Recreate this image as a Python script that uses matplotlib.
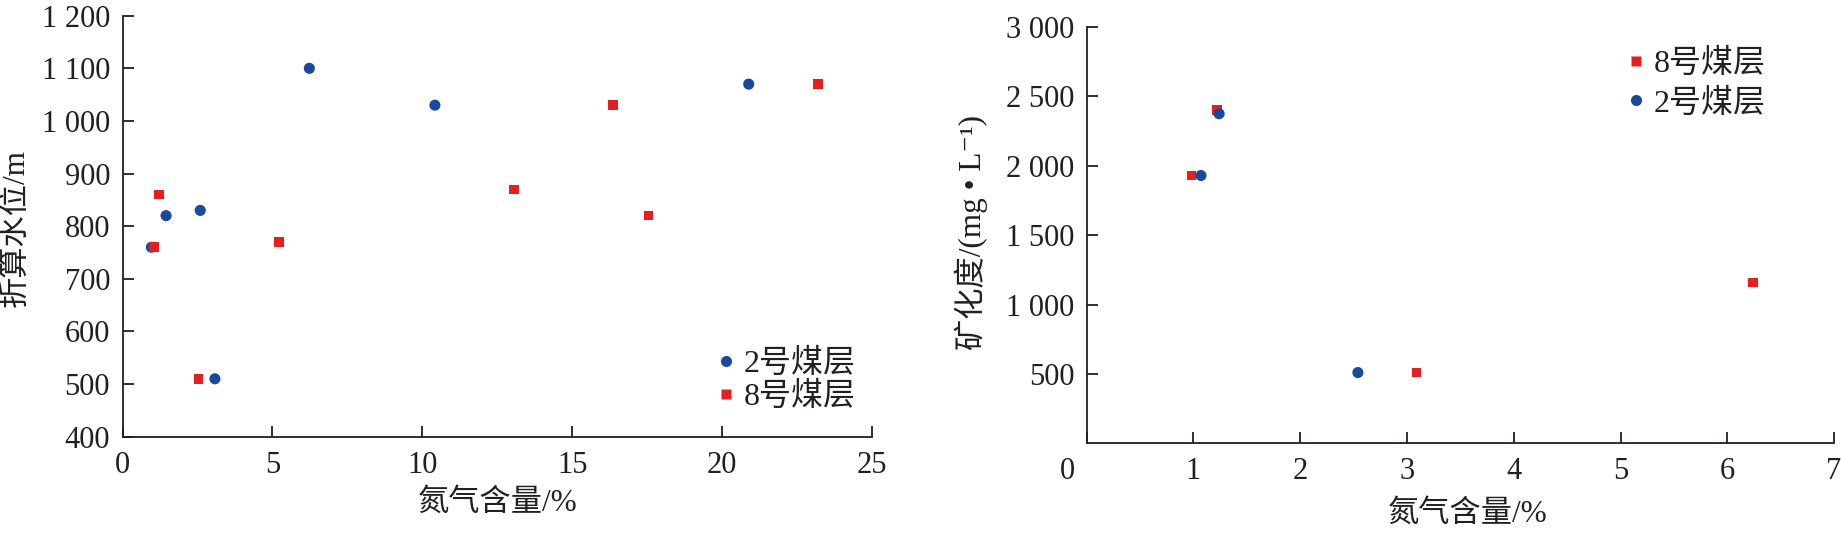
import matplotlib
matplotlib.use("Agg")
import matplotlib.pyplot as plt
from matplotlib.lines import Line2D

# ---------------- data ----------------
# left panel: N2 content (%) vs converted water level (m)
left_seam2_n2 = [6.23, 10.42, 20.89, 1.45, 2.59, 0.96, 3.08]
left_seam2_level = [1100, 1030, 1070, 820, 830, 760, 510]
left_seam8_n2 = [1.21, 1.04, 5.21, 2.53, 13.05, 16.36, 17.55, 23.2]
left_seam8_level = [860, 760, 770, 510, 870, 1030, 820, 1070]

# right panel: N2 content (%) vs mineralization (mg/L)
right_seam8_n2 = [0.98, 1.22, 3.09, 6.24]
right_seam8_tds = [1930, 2400, 510, 1160]
right_seam2_n2 = [1.07, 1.24, 2.54]
right_seam2_tds = [1930, 2375, 510]

left_xticks = [0, 5, 10, 15, 20, 25]
left_xticklabels = ["0", "5", "10", "15", "20", "25"]
left_yticks = [400, 500, 600, 700, 800, 900, 1000, 1100, 1200]
left_yticklabels = ["400", "500", "600", "700", "800", "900", "1 000", "1 100", "1 200"]

right_xticks = [0, 1, 2, 3, 4, 5, 6, 7]
right_xticklabels = ["", "1", "2", "3", "4", "5", "6", "7"]
right_yticks = [500, 1000, 1500, 2000, 2500, 3000]
right_yticklabels = ["500", "1 000", "1 500", "2 000", "2 500", "3 000"]

label_seam2 = "2号煤层"
label_seam8 = "8号煤层"
xlabel_text = "氮气含量/%"
left_ylabel = "折算水位/m"
right_ylabel = "矿化度/(mg • L⁻¹)"

# ---------------- style ----------------
FAM = ["Liberation Serif", "Noto Sans CJK SC", "DejaVu Sans"]
plt.rcParams["font.family"] = FAM
INK = "#231f20"
BLUE = "#184a9b"
RED = "#e3201f"
TICK_FS = 22
LABEL_FS = 22.5
LEG_FS = 23

fig = plt.figure(figsize=(18.41, 5.36), dpi=100)
ax1 = fig.add_axes([0.0666, 0.1853, 0.4070, 0.7854])
ax2 = fig.add_axes([0.5903, 0.1729, 0.4059, 0.7767])


def style_axes(ax):
    for s in ("top", "right"):
        ax.spines[s].set_visible(False)
    for s in ("left", "bottom"):
        ax.spines[s].set_color(INK)
        ax.spines[s].set_linewidth(1.3)
    ax.tick_params(axis="both", direction="in", length=7.7, width=1.3,
                   color=INK, labelcolor=INK, labelsize=TICK_FS)
    ax.tick_params(axis="y", pad=9)
    ax.tick_params(axis="x", pad=10)


# ----- left panel -----
ax1.scatter(left_seam2_n2, left_seam2_level, s=64, marker="o", color=BLUE,
            edgecolors="none", zorder=3, clip_on=False)
ax1.scatter(left_seam8_n2, left_seam8_level, s=48, marker="s", color=RED,
            edgecolors="none", zorder=4, clip_on=False)
ax1.set_xlim(0, 25)
ax1.set_ylim(400, 1200)
ax1.set_xticks(left_xticks)
ax1.set_xticklabels(left_xticklabels)
ax1.set_yticks(left_yticks)
ax1.set_yticklabels(left_yticklabels)
style_axes(ax1)
ax1.set_xlabel(xlabel_text, fontsize=LABEL_FS, color=INK, va="center", ha="center")
ax1.xaxis.set_label_coords(0.5, -0.1575)
ax1.set_ylabel(left_ylabel, fontsize=LABEL_FS, color=INK, va="center", ha="center")
ax1.yaxis.set_label_coords(-0.1424, 0.495)

h2 = Line2D([], [], ls="none", marker="o", ms=8, color=BLUE, mec="none")
h8 = Line2D([], [], ls="none", marker="s", ms=7, color=RED, mec="none")
ax1.legend([h2, h8], [label_seam2, label_seam8], loc="center left",
           bbox_to_anchor=(0.7945, 0.1335), frameon=False, fontsize=LEG_FS,
           handlelength=0.5, handletextpad=0.3, borderpad=0, borderaxespad=0,
           labelspacing=0.1, labelcolor=INK)

# ----- right panel -----
ax2.scatter(right_seam8_n2, right_seam8_tds, s=48, marker="s", color=RED,
            edgecolors="none", zorder=3, clip_on=False)
ax2.scatter(right_seam2_n2, right_seam2_tds, s=64, marker="o", color=BLUE,
            edgecolors="none", zorder=4, clip_on=False)
ax2.set_xlim(0, 7)
ax2.set_ylim(0, 3000)
ax2.set_xticks(right_xticks)
ax2.set_xticklabels(right_xticklabels)
ax2.set_yticks(right_yticks)
ax2.set_yticklabels(right_yticklabels)
style_axes(ax2)
# the origin label "0" sits slightly left of the corner in the reference
ax2.annotate("0", xy=(0, 0), xycoords="data", xytext=(-19, -14),
             textcoords="offset pixels", ha="center", va="top",
             fontsize=TICK_FS, color=INK, annotation_clip=False)
ax2.set_xlabel(xlabel_text, fontsize=LABEL_FS, color=INK, va="center", ha="center")
ax2.xaxis.set_label_coords(0.51, -0.170)
ax2.set_ylabel(right_ylabel, fontsize=LABEL_FS, color=INK, va="center", ha="center")
ax2.yaxis.set_label_coords(-0.1539, 0.5076)

ax2.legend([h8, h2], [label_seam8, label_seam2], loc="center left",
           bbox_to_anchor=(0.7243, 0.864), frameon=False, fontsize=LEG_FS,
           handlelength=0.5, handletextpad=0.3, borderpad=0, borderaxespad=0,
           labelspacing=0.3, labelcolor=INK)

fig.savefig("out.png", dpi=100)
